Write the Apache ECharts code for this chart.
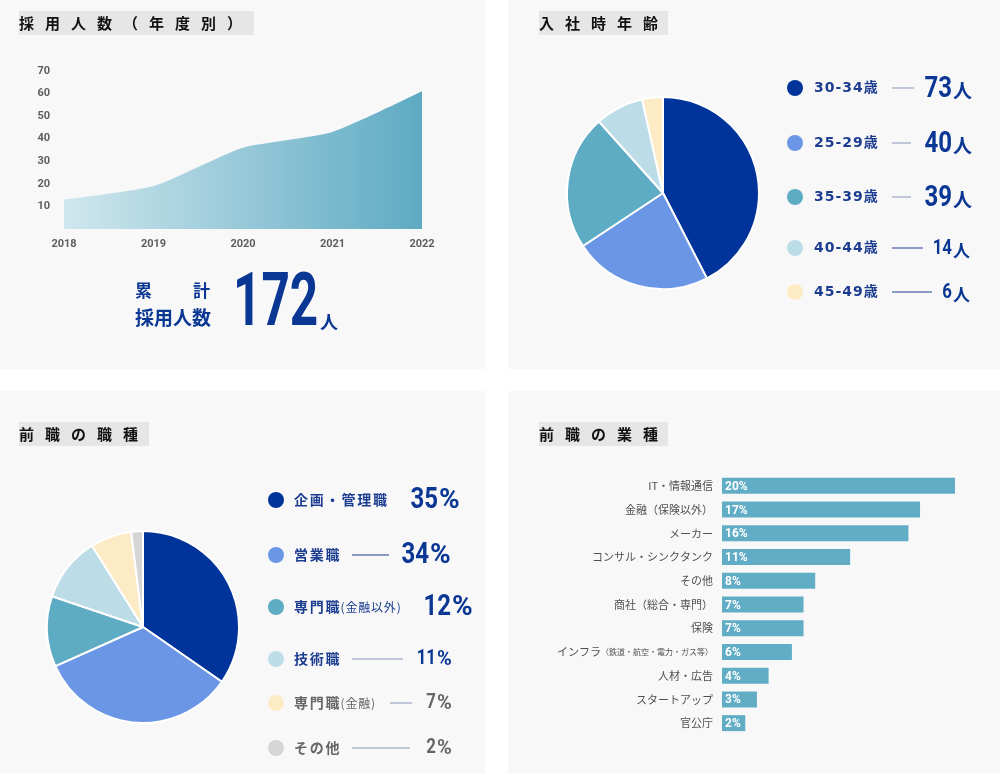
<!DOCTYPE html>
<html>
<head>
<meta charset="utf-8">
<script src="https://cdn.jsdelivr.net/npm/echarts@6/dist/echarts.min.js"></script>
<style>
html,body{margin:0;padding:0;background:#fff;}
#chart{width:1000px;height:774px;}
</style>
</head>
<body>
<div id="chart"></div>
<script>
// ---- data ----
const years = ['2018', '2019', '2020', '2021', '2022'];
const hires = [13, 19, 36, 43, 61];
const ageGroups = ['30-34歳', '25-29歳', '35-39歳', '40-44歳', '45-49歳'];
const ageCounts = [73, 40, 39, 14, 6];
const jobTypes = ['企画・管理職', '営業職', '専門職(金融以外)', '技術職', '専門職(金融)', 'その他'];
const jobShares = [35, 34, 12, 11, 7, 2];
const industries = ['IT・情報通信', '金融（保険以外）', 'メーカー', 'コンサル・シンクタンク', 'その他', '商社（総合・専門）', '保険', 'インフラ（鉄道・航空・電力・ガス等）', '人材・広告', 'スタートアップ', '官公庁'];
const industryShares = [20, 17, 16, 11, 8, 7, 7, 6, 4, 3, 2];

// ---- style ----
const pieColors = ['#00349a', '#6b96e6', '#5eacc3', '#bcdde7', '#fdebc6', '#d5d5d5'];
const JP = '"Noto Sans CJK JP", sans-serif';
const NUM = 'Roboto, "DejaVu Sans", sans-serif';
const NAVY = '#1c3d8f';
const NAVY_NUM = '#0b3794';
const GRAY = '#666666';

const chart = echarts.init(document.getElementById('chart'));
const g = [];
const mctx = document.createElement('canvas').getContext('2d');

function txt(x, y, text, font, fill, align, vAlign, sx, extra) {
  const el = {
    type: 'text', x: x, y: y, scaleX: sx || 1, z: 10, silent: true,
    style: Object.assign({
      text: text, x: 0, y: 0, font: font, fill: fill,
      align: align || 'left', verticalAlign: vAlign || 'middle'
    }, extra || {})
  };
  g.push(el);
}
// letter-spaced text, returns end x
function spaced(x, y, str, font, fill, spacing) {
  mctx.font = font;
  let cx = x;
  Array.from(str).forEach(function (c, i) {
    txt(cx, y, c, font, fill, 'left', 'middle');
    cx += mctx.measureText(c).width + spacing;
  });
  return cx - spacing;
}
function rect(x, y, w, h, fill, z) {
  g.push({ type: 'rect', z: z || 0, silent: true, shape: { x: x, y: y, width: w, height: h }, style: { fill: fill } });
}
function line(x1, y, x2, stroke) {
  g.push({ type: 'line', z: 10, silent: true, shape: { x1: x1, y1: y, x2: x2, y2: y }, style: { stroke: stroke, lineWidth: 1 } });
}
function dot(cx, cy, fill) {
  g.push({ type: 'circle', z: 10, silent: true, shape: { cx: cx, cy: cy, r: 8 }, style: { fill: fill } });
}
function title(x, y, w, chars) {
  rect(x, y, w, 24, '#e6e6e6', 1);
  Array.from(chars).forEach(function (c, i) {
    txt(x + i * 26, y + 12, c, 'bold 15px ' + JP, '#111111', 'left', 'middle');
  });
}

// panels
rect(0, 0, 485, 369, '#f8f8f9', 0);
rect(508, 0, 492, 369, '#f8f8f9', 0);
rect(0, 391, 485, 383, '#f8f8f9', 0);
rect(508, 391, 492, 383, '#f8f8f9', 0);

title(19, 11, 235, '採用人数（年度別）');
title(539, 11, 129, '入社時年齢');
title(19, 422, 130, '前職の職種');
title(539, 422, 129, '前職の業種');

// total hires
const total = hires.reduce(function (a, b) { return a + b; }, 0);
txt(135, 291, '累', 'bold 17px ' + JP, NAVY_NUM, 'left', 'middle');
txt(210, 291, '計', 'bold 17px ' + JP, NAVY_NUM, 'right', 'middle');
txt(135, 318, '採用人数', 'bold 19px ' + JP, NAVY_NUM, 'left', 'middle');
txt(233, 306, String(total), 'bold 75px ' + NUM, NAVY_NUM, 'left', 'middle', 0.66);
txt(320, 322, '人', 'bold 18px ' + JP, NAVY_NUM, 'left', 'middle');

// age legend
const trRows = [88, 143, 197, 248, 292];
const trLineEnd = [914, 911, 911, 923, 932];
ageGroups.forEach(function (name, i) {
  const y = trRows[i];
  const big = i < 3;
  dot(795, y, pieColors[i]);
  spaced(814, y, name, 'bold 14px "DejaVu Sans", "Noto Sans CJK JP", sans-serif', NAVY, 1);
  line(892, y, trLineEnd[i], big ? '#8595b8' : '#1f3f8f');
  txt(952, y + 1, String(ageCounts[i]), big ? 'bold 30px ' + NUM : 'bold 21px ' + NUM, NAVY_NUM, 'right', 'middle', 0.8);
  txt(953, y + 3, '人', (big ? 'bold 19px ' : 'bold 17px ') + JP, NAVY_NUM, 'left', 'middle');
});

// job legend
const blRows = [500, 555, 607, 659, 703, 748];
const blNumRight = [438, 429, 451, 436, 436, 436];
const blLines = [null, [352, 389], null, [352, 403], [390, 412], [352, 410]];
jobTypes.forEach(function (name, i) {
  const y = blRows[i];
  const big = i < 3;
  const col = i < 4 ? NAVY : GRAY;
  const ncol = i < 4 ? NAVY_NUM : GRAY;
  dot(276, y, pieColors[i]);
  const m = name.match(/^(.*?)(\(.*\))$/);
  if (m) {
    const ex = spaced(294, y, m[1], 'bold 14px ' + JP, col, 1.8);
    spaced(ex + 1, y, m[2], '12px ' + JP, col, 0.8);
  } else {
    spaced(294, y, name, 'bold 14px ' + JP, col, 1.8);
  }
  if (blLines[i]) line(blLines[i][0], y, blLines[i][1], i === 1 ? '#1f3f8f' : '#8595b8');
  const nx = blNumRight[i];
  txt(nx, y, String(jobShares[i]), big ? 'bold 30px ' + NUM : 'bold 21px ' + NUM, ncol, 'right', 'middle', 0.8);
  txt(nx + 1, y + 1, '%', big ? 'bold 28px ' + NUM : 'bold 20px ' + NUM, ncol, 'left', 'middle');
});

const option = {
  backgroundColor: '#ffffff',
  animation: false,
  graphic: { elements: g },
  grid: [
    { left: 64, right: 578, top: 71, bottom: 545 },
    { left: 722, right: 45, top: 474, bottom: 39 }
  ],
  xAxis: [
    {
      gridIndex: 0, type: 'category', data: years, boundaryGap: false,
      axisLine: { show: false }, axisTick: { show: false }, splitLine: { show: false },
      axisLabel: { color: '#5e5e5e', fontFamily: NUM, fontWeight: 'bold', fontSize: 11, margin: 10 }
    },
    {
      gridIndex: 1, type: 'value', min: 0, max: 20, show: false
    }
  ],
  yAxis: [
    {
      gridIndex: 0, type: 'value', min: 0, max: 70, interval: 10,
      axisLine: { show: false }, axisTick: { show: false }, splitLine: { show: false },
      axisLabel: { showMinLabel: false, color: '#5e5e5e', fontFamily: NUM, fontWeight: 'bold', fontSize: 11, margin: 14 }
    },
    {
      gridIndex: 1, type: 'category', data: industries, inverse: true,
      axisLine: { show: false }, axisTick: { show: false }, splitLine: { show: false },
      axisLabel: {
        margin: 9, color: '#555555', fontFamily: JP, fontSize: 11,
        formatter: function (v) {
          const m = v.match(/^(インフラ)(（.*）)$/);
          if (m) return '{a|' + m[1] + '}{b|' + m[2] + '}';
          return '{a|' + v + '}';
        },
        rich: {
          a: { color: '#505050', fontFamily: JP, fontSize: 11 },
          b: { color: '#505050', fontFamily: JP, fontSize: 8 }
        }
      }
    }
  ],
  series: [
    {
      type: 'line', xAxisIndex: 0, yAxisIndex: 0, data: hires, smooth: 0.2,
      showSymbol: false, silent: true, lineStyle: { width: 0 },
      areaStyle: {
        opacity: 1,
        color: { type: 'linear', x: 0, y: 0, x2: 1, y2: 0, colorStops: [
          { offset: 0, color: '#d0e7ee' }, { offset: 1, color: '#5eaac3' }
        ] }
      }
    },
    {
      type: 'pie', center: [663, 193], radius: 96, startAngle: 90, clockwise: true,
      silent: true, label: { show: false }, labelLine: { show: false },
      itemStyle: { borderColor: '#ffffff', borderWidth: 2 },
      data: ageCounts.map(function (v, i) { return { value: v, name: ageGroups[i], itemStyle: { color: pieColors[i] } }; })
    },
    {
      type: 'pie', center: [143, 627], radius: 96, startAngle: 90, clockwise: true,
      silent: true, label: { show: false }, labelLine: { show: false },
      itemStyle: { borderColor: '#ffffff', borderWidth: 2 },
      data: jobShares.map(function (v, i) { return { value: v, name: jobTypes[i], itemStyle: { color: pieColors[i] } }; })
    },
    {
      type: 'bar', xAxisIndex: 1, yAxisIndex: 1, data: industryShares, barWidth: 16,
      silent: true, itemStyle: { color: '#62adc6' },
      label: {
        show: true, position: 'insideLeft', offset: [-2, 1], formatter: '{c}%',
        color: '#ffffff', fontFamily: NUM, fontWeight: 'bold', fontSize: 12
      }
    }
  ]
};
chart.setOption(option);
</script>
</body>
</html>
